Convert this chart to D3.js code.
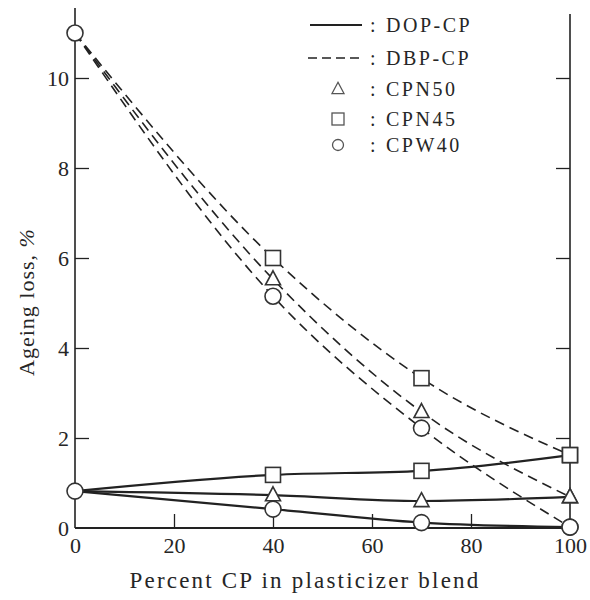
<!DOCTYPE html>
<html>
<head>
<meta charset="utf-8">
<script src="https://cdn.jsdelivr.net/npm/d3@7"></script>
<style>
  html, body { margin: 0; padding: 0; background: #fff; }
  svg { display: block; }
  svg text { font-family: "Liberation Serif", "Times New Roman", Times, "DejaVu Serif", serif !important; fill: #262626; }
</style>
</head>
<body>
<svg id="chart" width="590" height="600"></svg>
<script>
// ---- data ----
const xValues = [0, 40, 70, 100];
const seriesNames = ["CPN50", "CPN45", "CPW40"];
const seriesShapes = ["triangle", "square", "circle"];
// DOP-CP blends (solid lines)
const dopCPN50 = [0.82, 0.73, 0.60, 0.69];
const dopCPN45 = [0.82, 1.18, 1.27, 1.62];
const dopCPW40 = [0.82, 0.42, 0.12, 0.02];
// DBP-CP blends (dashed lines)
const dbpCPN50 = [11.0, 5.53, 2.58, 0.69];
const dbpCPN45 = [11.0, 6.0, 3.33, 1.62];
const dbpCPW40 = [11.0, 5.15, 2.22, 0.02];
const xTicks = [0, 20, 40, 60, 80, 100];
const yTicks = [0, 2, 4, 6, 8, 10];
const xTitle = "Percent CP in plasticizer blend";
const yTitle = "Ageing loss, ";
const legendLines = ["DOP-CP", "DBP-CP"];

const dopSeries = [dopCPN50, dopCPN45, dopCPW40];
const dbpSeries = [dbpCPN50, dbpCPN45, dbpCPW40];

// ---- layout ----
const FONT = '"Liberation Serif", "Times New Roman", serif';
const svg = d3.select("#chart");
const x = d3.scaleLinear().domain([0, 100]).range([75, 570]);
const y = d3.scaleLinear().domain([0, 11]).range([528, 33]);
const ink = "#222";

// axes
const gx = svg.append("g").attr("transform", `translate(0,${y(0)})`)
  .call(d3.axisBottom(x).tickValues(xTicks).tickSizeInner(-14).tickSizeOuter(0).tickPadding(9));
const gy = svg.append("g").attr("transform", `translate(${x(0)},0)`)
  .call(d3.axisLeft(y).tickValues(yTicks).tickSizeInner(-14).tickSizeOuter(0).tickPadding(6));
const gr = svg.append("g").attr("transform", `translate(${x(100)},0)`)
  .call(d3.axisRight(y).tickValues(yTicks.filter(d => d > 0)).tickSizeInner(-14).tickSizeOuter(0).tickFormat(""));
[gx, gy, gr].forEach(g => {
  g.attr("font-family", FONT);
  g.select(".domain").remove();
  g.selectAll(".tick line").attr("stroke", ink).attr("stroke-width", 1.3);
  g.selectAll(".tick text").attr("font-size", 22).attr("fill", "#262626");
});
gx.selectAll(".tick").filter(d => d === 0 || d === 100).select("line").remove();
gy.selectAll(".tick").filter(d => d === 0).select("line").remove();

// axis lines
svg.append("line").attr("x1", x(0)).attr("x2", x(100)).attr("y1", y(0)).attr("y2", y(0))
  .attr("stroke", ink).attr("stroke-width", 1.8);
svg.append("line").attr("x1", x(0)).attr("x2", x(0)).attr("y1", y(0)).attr("y2", y(11) - 25)
  .attr("stroke", ink).attr("stroke-width", 1.6);
svg.append("line").attr("x1", x(100)).attr("x2", x(100)).attr("y1", y(0)).attr("y2", y(11) - 19)
  .attr("stroke", ink).attr("stroke-width", 1.6);

// titles
svg.append("text").attr("x", 305).attr("y", 588)
  .attr("font-family", FONT)
  .attr("text-anchor", "middle").attr("font-size", 23).attr("letter-spacing", 2.2)
  .text(xTitle);
const yt = svg.append("text").attr("transform", `translate(34,302) rotate(-90)`)
  .attr("font-family", FONT)
  .attr("text-anchor", "middle").attr("font-size", 22).attr("letter-spacing", 1)
yt.append("tspan").text(yTitle);
yt.append("tspan").attr("font-style", "italic").text("%");

// curves
const lineGen = d3.line().x((d, i) => x(xValues[i])).y(d => y(d)).curve(d3.curveMonotoneX);
dbpSeries.forEach(s => {
  svg.append("path").attr("d", lineGen(s)).attr("fill", "none").attr("stroke", ink)
    .attr("stroke-width", 1.6).attr("stroke-dasharray", "10,6");
});
dopSeries.forEach(s => {
  svg.append("path").attr("d", lineGen(s)).attr("fill", "none").attr("stroke", ink)
    .attr("stroke-width", 2.2);
});

// markers
function drawMarker(g, shape, cx, cy, size) {
  if (shape === "circle") {
    g.append("circle").attr("cx", cx).attr("cy", cy).attr("r", size / 2);
  } else if (shape === "square") {
    g.append("rect").attr("x", cx - size / 2).attr("y", cy - size / 2).attr("width", size).attr("height", size);
  } else {
    const h = size * 0.9;
    g.append("path").attr("d", `M${cx},${cy - h * 0.62}L${cx + size / 2},${cy + h * 0.42}L${cx - size / 2},${cy + h * 0.42}Z`);
  }
}
const mg = svg.append("g").attr("fill", "#fff").attr("stroke", "#333").attr("stroke-width", 1.6);
[dbpSeries, dopSeries].forEach(group => {
  group.forEach((s, k) => {
    s.forEach((v, i) => {
      if (i === 0) return;
      drawMarker(mg, seriesShapes[k], x(xValues[i]), y(v), seriesShapes[k] === "circle" ? 16 : 15);
    });
  });
});
// shared starting points at 0 %
drawMarker(mg, "circle", x(xValues[0]), y(dopSeries[0][0]), 16);
drawMarker(mg, "circle", x(xValues[0]), y(dbpSeries[0][0]), 16);

// legend
const lg = svg.append("g").attr("font-family", FONT);
const rowY = [25, 58, 89, 119, 145];
lg.append("line").attr("x1", 310).attr("x2", 362).attr("y1", rowY[0]).attr("y2", rowY[0])
  .attr("stroke", ink).attr("stroke-width", 2);
lg.append("line").attr("x1", 308).attr("x2", 362).attr("y1", rowY[1]).attr("y2", rowY[1])
  .attr("stroke", ink).attr("stroke-width", 1.6).attr("stroke-dasharray", "9,5");
const lm = lg.append("g").attr("fill", "#fff").attr("stroke", "#555").attr("stroke-width", 1.3);
seriesShapes.forEach((sh, k) => drawMarker(lm, sh, 338, rowY[k + 2], sh === "circle" ? 11 : 12));
const labels = legendLines.concat(seriesNames);
labels.forEach((t, i) => {
  lg.append("text").attr("x", 370).attr("y", rowY[i] + 7).attr("font-size", 20).text(":");
  lg.append("text").attr("x", 386).attr("y", rowY[i] + 7).attr("font-size", 20)
    .attr("letter-spacing", 2.5).text(t);
});
</script>
</body>
</html>
